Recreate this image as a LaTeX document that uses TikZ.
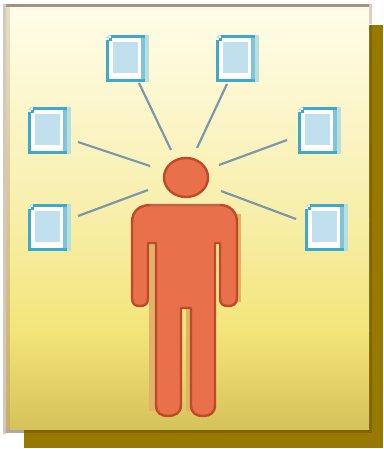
\documentclass[tikz,border=0pt]{standalone}
\usetikzlibrary{calc}
\definecolor{shadowc}{HTML}{977800}
\definecolor{shadowd}{HTML}{7F6500}
\definecolor{topedge}{HTML}{A89080}
\definecolor{leftedge}{HTML}{D2C8C0}
\definecolor{tanA}{HTML}{E8DDC0}
\definecolor{tanB}{HTML}{C8B060}
\definecolor{sideedge}{HTML}{D8CEC4}
\definecolor{paperA}{HTML}{FFFDEA}
\definecolor{paperB}{HTML}{F7EEA8}
\definecolor{paperC}{HTML}{F3E57A}
\definecolor{paperD}{HTML}{D6C25A}
\definecolor{pageline}{HTML}{3FA9CC}
\definecolor{pageright}{HTML}{7FC4DC}
\definecolor{pagefringe}{HTML}{B9DFDC}
\definecolor{pagefill}{HTML}{C0E0EE}
\definecolor{spoke}{HTML}{6F8FA8}
\definecolor{figfill}{HTML}{E8704A}
\definecolor{figline}{HTML}{BF4A2A}
\definecolor{figtop}{HTML}{BC6446}
\definecolor{figshade}{HTML}{E0B468}
\tikzset{
  x=1pt,y=-1pt,
  spokeline/.style={draw=spoke,line width=2.2pt,opacity=.9},
  figure part/.style={fill=figfill,draw=figline,line width=2.4pt,line join=round}
}
\newcommand{\docpage}[3]{%
  \begin{scope}[shift={(#2,#3)}]
    \fill[pagefringe] (3,0) rectangle (43,47);
    \fill[white] (1,1) rectangle (39,46);
    \fill[pagefill] (7,7) rectangle (32,38);
    \fill[pageright] (35,0) rectangle (39,47);
    \draw[pageline,line width=3pt,line join=miter] (5,1.5) -- (39,1.5);
    \draw[pageline,line width=3pt,line join=miter] (39,45.5) -- (1.5,45.5) -- (1.5,5);
    \fill[pagefringe] (0,3) -- (3,0) -- (3,3) -- cycle;
    \fill[pageline] (3,3) rectangle (6,6);
    \coordinate (#1) at (20,23);
  \end{scope}}
\begin{document}
\begin{tikzpicture}
\useasboundingbox (0,0) rectangle (383,449);
\fill[white] (0,0) rectangle (383,449);
% shadow
\fill[shadowc] (24,25) rectangle (383,449);
\fill[white] (24,448) rectangle (383,449);
\fill[shadowd] (24,429) rectangle (372,433);
\fill[shadowd] (369,25) rectangle (372,433);
% paper edges
\fill[leftedge] (3,4) rectangle (6,434);
\fill[top color=tanA,bottom color=tanB] (6,7) rectangle (10,429);
\fill[topedge!80!white] (6,429) rectangle (24,433);
\fill[sideedge] (369,4) rectangle (372,24);
% paper
\fill[top color=paperA,bottom color=paperB] (10,7) rectangle (369,220);
\fill[top color=paperB,bottom color=paperC] (10,220) rectangle (369,330);
\fill[top color=paperC,bottom color=paperD] (10,330) rectangle (369,429);
\fill[topedge] (6,4) rectangle (369,7);
% pages
\docpage{p1}{106}{35}
\docpage{p2}{216}{35}
\docpage{p3}{28}{107}
\docpage{p4}{298}{107}
\docpage{p5}{28}{204}
\docpage{p6}{305}{204}
% spoke ends
\coordinate (a1) at (139,83);  \coordinate (b1) at (171,150);
\coordinate (a2) at (227,84);  \coordinate (b2) at (197,148);
\coordinate (a3) at (78,142);  \coordinate (b3) at (150,166);
\coordinate (a4) at (287,140); \coordinate (b4) at (219,165);
\coordinate (a5) at (78,216);  \coordinate (b5) at (148,190);
\coordinate (a6) at (296,219); \coordinate (b6) at (221,191);
\foreach \i in {1,...,6}{\draw[spokeline] (a\i) -- (b\i);}
% figure
\fill[figshade] (149,243) rectangle (157,411);
\fill[figshade] (186,308) rectangle (192,411);
\fill[figshade] (230,214) rectangle (241,302);
\draw[figure part] (186,177.5) ellipse [x radius=22,y radius=19.5];
\draw[figure part]
  (132,222) .. controls (132,211) and (140,205) .. (150,205)
  -- (220,205) .. controls (230,205) and (237,212) .. (237,222)
  -- (237,298) .. controls (237,304) and (233,306) .. (228,306)
  .. controls (223,306) and (220,304) .. (220,298)
  -- (220,243) -- (215,243)
  -- (215,405) .. controls (215,413) and (210,416) .. (203,416)
  .. controls (196,416) and (191,413) .. (191,405)
  -- (191,308) -- (181,308)
  -- (181,405) .. controls (181,413) and (175,416) .. (168,416)
  .. controls (161,416) and (156,413) .. (156,405)
  -- (156,243) -- (148,243)
  -- (148,298) .. controls (148,304) and (145,306) .. (140,306)
  .. controls (135,306) and (132,304) .. (132,298) -- cycle;
\draw[figtop,line width=2.4pt] (150,205) -- (220,205);
\end{tikzpicture}
\end{document}
